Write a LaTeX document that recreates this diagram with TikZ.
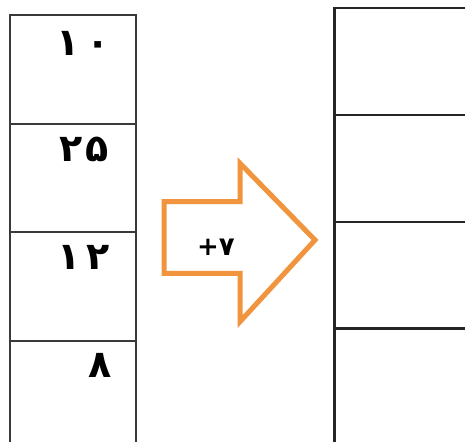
\documentclass[tikz,border=0pt]{standalone}
\usepackage{fontspec}
\newfontfamily\arabicfont[Script=Arabic]{DejaVu Sans}
\newfontfamily\plusfont{DejaVu Sans}
\definecolor{arroworange}{HTML}{F0943E}
\definecolor{boxgray}{HTML}{3A3A3A}
\begin{document}
\begin{tikzpicture}[x=1pt,y=-1pt,
  leftbox/.style={draw=boxgray,line width=2.2pt,minimum width=126.5pt,minimum height=108.5pt,anchor=north west,inner sep=0pt},
  rightbox/.style={draw=black!85,line width=2.2pt,minimum width=150pt,minimum height=106.7pt,anchor=north west,inner sep=0pt},
  num/.style={font=\arabicfont\bfseries\fontsize{38}{38}\selectfont,anchor=east,inner sep=0pt},
  bigarrow/.style={draw=arroworange,line width=5pt,line join=miter,fill=white}]
\useasboundingbox (0,0) rectangle (465,441);
\fill[white] (0,0) rectangle (465,441);
\begin{scope}
\clip (0,0) rectangle (465,441);
\node[leftbox] (l1) at (8.5,14) {};
\node[leftbox] (l2) at (8.5,122.5) {};
\node[leftbox] (l3) at (8.5,231) {};
\node[leftbox, minimum height=140pt] (l4) at (8.5,339.5) {};
\node[rightbox] (r1) at (333.3,7.3) {};
\node[rightbox] (r2) at (333.3,114) {};
\node[rightbox] (r3) at (333.3,220.7) {};
\node[rightbox, minimum height=140pt] (r4) at (333.3,327.4) {};
\end{scope}
\node[num] (n1) at (110,43) {{۱}\hspace{7pt}{۰}};
\node[num] (n2) at (109,149) {{۲}\hspace{3pt}{۵}};
\node[num] (n3) at (110,257) {{۱}\hspace{6pt}{۲}};
\node[num] (n4) at (112,365) {۸};
\draw[bigarrow] (164,201.7) -- (240,201.7) -- (240,163.3) -- (315,240) -- (240,321.7) -- (240,273.3) -- (164,273.3) -- cycle;
\node[font=\bfseries\fontsize{26}{26}\selectfont,inner sep=0pt] (op) at (216,247) {{\plusfont +}{\arabicfont ۷}};
\end{tikzpicture}
\end{document}
